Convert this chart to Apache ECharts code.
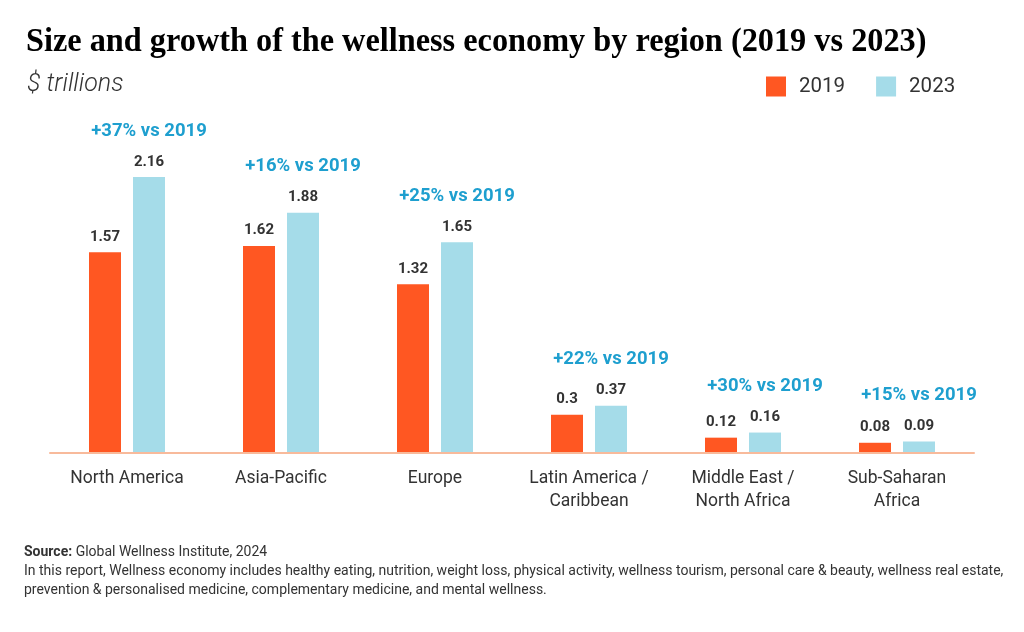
<!DOCTYPE html>
<html>
<head>
<meta charset="utf-8">
<script src="https://cdn.jsdelivr.net/npm/echarts@6/dist/echarts.min.js"></script>
<style>
  html, body { margin: 0; padding: 0; background: #fff; }
  #chart { width: 1024px; height: 632px; }
</style>
</head>
<body>
<div id="chart"></div>
<script>
// wellness economy by region, 2019 vs 2023 ($ trillions)
var regions = ['North America', 'Asia-Pacific', 'Europe', 'Latin America /\nCaribbean', 'Middle East /\nNorth Africa', 'Sub-Saharan\nAfrica'];
var years = ['2019', '2023'];
var size2019 = [1.57, 1.62, 1.32, 0.3, 0.12, 0.08];
var size2023 = [2.16, 1.88, 1.65, 0.37, 0.16, 0.09];
var growth = ['+37%', '+16%', '+25%', '+22%', '+30%', '+15%'];

var ORANGE = '#FF5722';
var BLUE = '#A5DCE9';
var TXT = '#333333';
var FONT = 'Roboto, "Noto Sans", sans-serif';

var chart = echarts.init(document.getElementById('chart'));

chart.setOption({
  backgroundColor: '#fff',
  animation: false,
  textStyle: { fontFamily: FONT },
  graphic: [
    {
      type: 'text', x: 26, y: 25, scaleX: 0.95,
      style: {
        text: 'Size and growth of the wellness economy by region (2019 vs 2023)',
        font: 'bold 34px "Liberation Serif", "DejaVu Serif", serif',
        fill: '#000'
      }
    },
    {
      type: 'text', left: 27, top: 72,
      style: {
        text: '$ trillions',
        font: 'italic 300 25px ' + FONT,
        fill: TXT
      }
    },
    {
      type: 'text', left: 24, top: 543,
      style: {
        text: '{b|Source:} Global Wellness Institute, 2024\n' +
              'In this report, Wellness economy includes healthy eating, nutrition, weight loss, physical activity, wellness tourism, personal care & beauty, wellness real estate,\n' +
              'prevention & personalised medicine, complementary medicine, and mental wellness.',
        fontFamily: FONT,
        fontSize: 14,
        lineHeight: 19,
        fill: TXT,
        rich: {
          b: { fontWeight: 'bold', fontSize: 14, fontFamily: FONT, fill: TXT }
        }
      }
    }
  ],
  legend: {
    data: years,
    left: 766, top: 76, padding: 0,
    icon: 'rect',
    itemWidth: 20, itemHeight: 20,
    itemGap: 31,
    textStyle: { fontSize: 20.5, color: TXT, padding: [0, 0, 0, 8] }
  },
  grid: { left: 50, right: 50, top: 133.5, bottom: 179 },
  xAxis: {
    type: 'category',
    data: regions,
    axisTick: { show: false },
    axisLine: { lineStyle: { color: '#F8BA9B', width: 2 } },
    axisLabel: { interval: 0, fontSize: 17.5, color: TXT, margin: 14, lineHeight: 23 },
    z: 10
  },
  yAxis: {
    type: 'value', min: 0, max: 2.5,
    show: false, splitLine: { show: false }
  },
  series: [
    {
      name: years[0], type: 'bar',
      data: size2019,
      barWidth: 32, barGap: '37.5%',
      itemStyle: { color: ORANGE },
      label: {
        show: true, position: 'top', distance: 8,
        fontSize: 15, fontWeight: 'bold', color: TXT,
        formatter: function (p) { return String(p.value); }
      }
    },
    {
      name: years[1], type: 'bar',
      data: size2023,
      barWidth: 32,
      itemStyle: { color: BLUE },
      label: {
        show: true, position: 'top', distance: 6,
        formatter: function (p) {
          return '{p|' + growth[p.dataIndex] + ' vs 2019}\n{v|' + p.value + '}';
        },
        rich: {
          p: { fontSize: 18.5, fontWeight: 'bold', color: '#1E9FCF', lineHeight: 44 },
          v: { fontSize: 15, fontWeight: 'bold', color: TXT, lineHeight: 18 }
        }
      }
    }
  ]
});
</script>
</body>
</html>
